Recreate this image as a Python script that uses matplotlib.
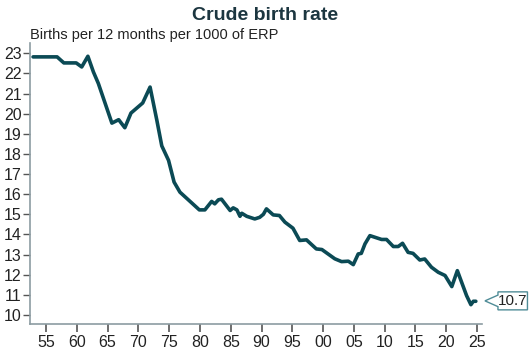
import matplotlib.pyplot as plt
from matplotlib.path import Path

# crude birth rate, births per 12 months per 1000 of ERP
years = [1952.9, 1956.8, 1957.9, 1959.9, 1960.8, 1961.8, 1962.7, 1963.5, 1965.7,
         1966.8, 1967.8, 1968.8, 1970.7, 1971.9, 1973.0, 1973.8, 1974.9, 1975.8,
         1976.75, 1979.9, 1980.8, 1981.9, 1982.4, 1983.0, 1983.5, 1984.9, 1985.4,
         1986.0, 1986.5, 1986.8, 1987.6, 1988.9, 1989.7, 1990.3, 1990.8, 1991.9,
         1992.9, 1993.8, 1995.1, 1996.2, 1997.3, 1998.9, 1999.8, 2001.9, 2003.0,
         2004.1, 2004.9, 2005.7, 2006.2, 2006.8, 2007.6, 2008.4, 2009.5, 2010.3,
         2011.4, 2012.2, 2012.9, 2013.8, 2014.6, 2015.7, 2016.5, 2017.6, 2018.7,
         2019.8, 2020.9, 2021.8, 2022.5, 2023.3, 2024.0, 2024.4, 2024.8]
rate = [22.82, 22.82, 22.52, 22.52, 22.32, 22.85, 22.07, 21.5, 19.53,
        19.7, 19.3, 20.03, 20.53, 21.32, 19.67, 18.4, 17.68, 16.6,
        16.1, 15.22, 15.22, 15.64, 15.52, 15.72, 15.75, 15.19, 15.32,
        15.22, 14.9, 15.05, 14.9, 14.77, 14.85, 15.0, 15.27, 14.97,
        14.94, 14.61, 14.31, 13.7, 13.73, 13.28, 13.25, 12.79, 12.65,
        12.67, 12.5, 13.03, 13.06, 13.53, 13.94, 13.86, 13.75, 13.75,
        13.4, 13.4, 13.56, 13.11, 13.06, 12.73, 12.78, 12.37, 12.12,
        11.96, 11.41, 12.2, 11.62, 10.96, 10.51, 10.68, 10.68]
latest = 10.7

xticks = list(range(1955, 2026, 5))
xlabels = ["%02d" % (y % 100) for y in xticks]
yticks = list(range(10, 24))

line_col = "#0b4a55"
axis_col = "#8c9ca2"
text_col = "#222222"

plt.rcParams["font.family"] = ["Liberation Sans", "DejaVu Sans"]

fig = plt.figure(figsize=(5.3, 3.54), dpi=100)
ax = fig.add_axes([0.0566, 0.0847, 0.8528, 0.7933])

ax.plot(years, rate, color=line_col, lw=2.6, solid_joinstyle="round", solid_capstyle="round")

ax.set_xlim(1952.4, 2025.8)
ax.set_ylim(9.55, 23.5)
ax.set_xticks(xticks)
ax.set_xticklabels(xlabels)
ax.set_yticks(yticks)

for s in ["top", "right"]:
    ax.spines[s].set_visible(False)
for s in ["left", "bottom"]:
    ax.spines[s].set_color(axis_col)
    ax.spines[s].set_linewidth(1.2)
ax.tick_params(axis="x", direction="out", length=6, width=1.2, color="#555555",
               labelsize=11.5, labelcolor=text_col, pad=2)
ax.tick_params(axis="y", direction="out", length=5, width=1.0, color="#555555",
               labelsize=11.5, labelcolor=text_col, pad=1)


def callout(x0, y0, width, height, mutation_size):
    # rectangle with a small left-pointing wedge, a bit taller than the text
    tip = 13
    y0 -= 2
    height += 4
    ym = y0 + height / 2
    verts = [(x0, y0), (x0 + width, y0), (x0 + width, y0 + height), (x0, y0 + height),
             (x0, ym + height * 0.32), (x0 - tip, ym), (x0, ym - height * 0.32), (x0, y0)]
    codes = [Path.MOVETO] + [Path.LINETO] * 6 + [Path.CLOSEPOLY]
    return Path(verts, codes)


ax.annotate("%.1f" % latest, xy=(1.0, latest), xycoords=("axes fraction", "data"),
            xytext=(11.5, 0), textcoords="offset points", ha="left", va="center",
            fontsize=11, color=text_col, annotation_clip=False,
            bbox=dict(boxstyle=callout, fc="white", ec="#4f8c97", lw=1.0, pad=0.15))

fig.text(0.5, 0.955, "Crude birth rate", ha="center", va="center",
         fontsize=14, fontweight="bold", color="#1c3640")
fig.text(0.057, 0.9, "Births per 12 months per 1000 of ERP", ha="left", va="center",
         fontsize=10.5, color=text_col)

fig.savefig("out.png", dpi=100)
